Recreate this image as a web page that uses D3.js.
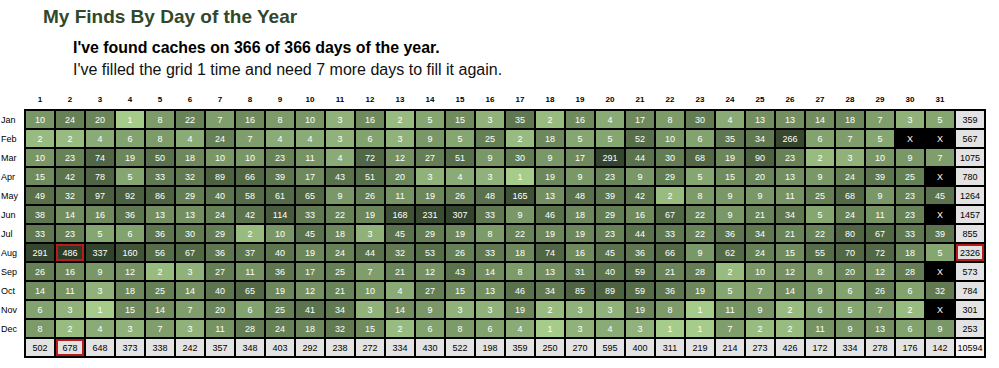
<!DOCTYPE html>
<html>
<head>
<meta charset="utf-8">
<script src="https://cdn.jsdelivr.net/npm/d3@7"></script>
<style>
  html, body { margin: 0; padding: 0; background: #fff; }
  svg { display: block; font-family: "Liberation Sans", Arial, sans-serif; }
</style>
</head>
<body>
<svg id="chart" width="999" height="368"></svg>
<script>
const title = "My Finds By Day of the Year";
const subtitle1 = "I've found caches on 366 of 366 days of the year.";
const subtitle2 = "I've filled the grid 1 time and need 7 more days to fill it again.";

const months = ["Jan","Feb","Mar","Apr","May","Jun","Jul","Aug","Sep","Oct","Nov","Dec"];
const dayLabels = ["1","2","3","4","5","6","7","8","9","10","11","12","13","14","15","16",
                   "17","18","19","20","21","22","23","24","25","26","27","28","29","30","31"];

// null = day does not exist (drawn as X)
const jan = [10,24,20,1,8,22,7,16,8,10,3,16,2,5,15,3,35,2,16,4,17,8,30,4,13,13,14,18,7,3,5];
const feb = [2,2,4,6,8,4,24,7,4,4,3,6,3,9,5,25,2,18,5,5,52,10,6,35,34,266,6,7,5,null,null];
const mar = [10,23,74,19,50,18,10,10,23,11,4,72,12,27,51,9,30,9,17,291,44,30,68,19,90,23,2,3,10,9,7];
const apr = [15,42,78,5,33,32,89,66,39,17,43,51,20,3,4,3,1,19,9,23,9,29,5,15,20,13,9,24,39,25,null];
const may = [49,32,97,92,86,29,40,58,61,65,9,26,11,19,26,48,165,13,48,39,42,2,8,9,9,11,25,68,9,23,45];
const jun = [38,14,16,36,13,13,24,42,114,33,22,19,168,231,307,33,9,46,18,29,16,67,22,9,21,34,5,24,11,23,null];
const jul = [33,23,5,6,36,30,29,2,10,45,18,3,45,29,19,8,22,19,19,23,44,33,22,36,34,21,22,80,67,33,39];
const aug = [291,486,337,160,56,67,36,37,40,19,24,44,32,53,26,33,18,74,16,45,36,66,9,62,24,15,55,70,72,18,5];
const sep = [26,16,9,12,2,3,27,11,36,17,25,7,21,12,43,14,8,13,31,40,59,21,28,2,10,12,8,20,12,28,null];
const oct = [14,11,3,18,25,14,40,65,19,12,21,10,4,27,15,13,46,34,85,89,59,36,19,5,7,14,9,6,26,6,32];
const nov = [6,3,1,15,14,7,20,6,25,41,34,3,14,9,3,3,19,2,3,3,19,8,1,11,9,2,6,5,7,2,null];
const dec = [8,2,4,3,7,3,11,28,24,18,32,15,2,6,8,6,4,1,3,4,3,1,1,7,2,2,11,9,13,6,9];

const monthTotals = [359,567,1075,780,1264,1457,855,2326,573,784,301,253];
const dayTotals = [502,678,648,373,338,242,357,348,403,292,238,272,334,430,522,198,
                   359,250,270,595,400,311,219,214,273,426,172,334,278,176,142];
const grandTotal = 10594;

const rows = [jan,feb,mar,apr,may,jun,jul,aug,sep,oct,nov,dec];

const svg = d3.select("#chart");

// Titles
svg.append("text").attr("x", 43).attr("y", 23)
  .attr("font-size", 19).attr("font-weight", "bold").attr("fill", "#31482a")
  .text(title);
svg.append("text").attr("x", 73).attr("y", 53)
  .attr("font-size", 15.9).attr("font-weight", "bold").attr("fill", "#000")
  .text(subtitle1);
svg.append("text").attr("x", 73).attr("y", 75)
  .attr("font-size", 16).attr("fill", "#111")
  .text(subtitle2);

// Scales
const colKeys = dayLabels.concat(["total"]);
const rowKeys = months.concat(["total"]);
const x = d3.scaleBand().domain(colKeys).range([25, 985]);
const y = d3.scaleBand().domain(rowKeys).range([110, 357]);
const color = d3.scaleLog().domain([1, 486]).range(["#a6cc8c", "#2b3a25"]).interpolate(d3.interpolateRgb);

// Column headers
svg.append("g").selectAll("text").data(dayLabels).join("text")
  .attr("x", d => x(d) + x.bandwidth() / 2)
  .attr("y", 102)
  .attr("text-anchor", "middle")
  .attr("font-size", 8).attr("font-weight", "bold").attr("fill", "#000")
  .text(d => d);

// Row labels
svg.append("g").selectAll("text").data(months).join("text")
  .attr("x", 1)
  .attr("y", d => y(d) + y.bandwidth() / 2 + 3)
  .attr("font-size", 9).attr("fill", "#000")
  .text(d => d);

// Grid background (black lines)
svg.append("rect")
  .attr("x", x.range()[0] - 1).attr("y", y.range()[0] - 1)
  .attr("width", x.range()[1] - x.range()[0] + 2)
  .attr("height", y.range()[1] - y.range()[0] + 2)
  .attr("fill", "#000");

// Build cell list
const cells = [];
rows.forEach((vals, i) => {
  vals.forEach((v, j) => {
    cells.push({ row: months[i], col: dayLabels[j], value: v, kind: v === null ? "x" : "day" });
  });
  cells.push({ row: months[i], col: "total", value: monthTotals[i], kind: "total" });
});
dayTotals.forEach((v, j) => cells.push({ row: "total", col: dayLabels[j], value: v, kind: "total" }));
cells.push({ row: "total", col: "total", value: grandTotal, kind: "grand" });

const maxDay = d3.max(rows.flat());
const maxMonth = d3.max(monthTotals);
const maxDayTot = d3.max(dayTotals);
cells.forEach(c => {
  c.highlight = (c.kind === "day" && c.value === maxDay) ||
    (c.kind === "total" && c.col === "total" && c.value === maxMonth) ||
    (c.kind === "total" && c.row === "total" && c.value === maxDayTot);
});

const g = svg.append("g");
g.selectAll("rect.cell").data(cells).join("rect")
  .attr("class", "cell")
  .attr("x", d => x(d.col) + 1)
  .attr("y", d => y(d.row) + 1)
  .attr("width", x.bandwidth() - 2)
  .attr("height", y.bandwidth() - 2)
  .attr("fill", d => d.kind === "x" ? "#000" : d.kind === "total" ? "#e3e3e3" : d.kind === "grand" ? "#f4f4f4" : color(d.value));

g.selectAll("rect.hl").data(cells.filter(d => d.highlight)).join("rect")
  .attr("class", "hl")
  .attr("x", d => x(d.col) + 2)
  .attr("y", d => y(d.row) + 2)
  .attr("width", x.bandwidth() - 4)
  .attr("height", y.bandwidth() - 4)
  .attr("fill", "none").attr("stroke", "#b81c1c").attr("stroke-width", 2);

g.selectAll("text").data(cells).join("text")
  .attr("x", d => x(d.col) + x.bandwidth() / 2)
  .attr("y", d => y(d.row) + y.bandwidth() / 2 + 3.5)
  .attr("text-anchor", "middle")
  .attr("font-size", 9)
  .attr("fill", d => (d.kind === "total" || d.kind === "grand") ? "#000" : "#fff")
  .text(d => d.kind === "x" ? "X" : d.value);
</script>
</body>
</html>
